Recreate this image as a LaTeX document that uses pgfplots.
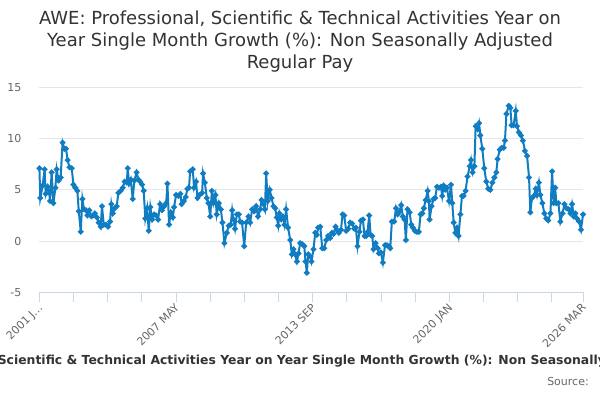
\documentclass[border=0pt]{standalone}
\usepackage{fontspec}
\setmainfont{DejaVu Sans}
\usepackage{pgfplots}
\pgfplotsset{compat=1.18}
\definecolor{serie}{RGB}{16,124,194}
\definecolor{titlec}{HTML}{333333}
\definecolor{tickc}{HTML}{666666}
\definecolor{gridc}{HTML}{E6E6E6}
\definecolor{axisc}{HTML}{CCD6EB}
\pgfplotstableread{
m v
0 7.1
0.5 4.2
1.8 5.4
2.9 7.0
3.5 4.6
4.6 5.3
5.5 4.7
5.9 3.9
6.8 6.7
7.8 3.7
8.9 5.2
9.6 7.0
10.7 5.9
11.8 6.2
12.9 9.6
13.9 9.0
14.8 9.0
15.7 7.9
16.7 7.2
18 7.1
18.9 5.5
20 5.2
21.1 4.9
21.9 2.9
23 0.9
23.9 4.1
24.8 3.1
25.9 3.0
26.7 2.5
27.8 3.0
28.9 2.4
29.8 2.5
30.9 2.7
32 2.3
33 1.8
34.1 1.4
34.8 3.4
35.8 1.6
37.1 1.6
38.2 1.4
39.3 1.9
40 3.6
40.8 2.7
41.9 3.2
43 3.4
43.9 4.7
45.2 4.9
46.3 5.2
47.4 5.8
48.6 5.7
49.1 7.1
49.9 5.6
50.8 6.0
51.9 4.1
52.8 5.9
54.1 6.7
55 6.0
56 5.8
57.1 5.5
58 4.9
58.9 2.2
59.9 3.2
60.8 1.0
61.7 3.3
62.7 2.1
63.8 2.6
64.9 2.5
66 2.1
67.1 3.6
68.2 3.0
69.4 3.4
70.5 3.7
71.2 5.6
72.1 1.6
73.1 2.8
74.2 2.3
74.9 3.3
76 4.5
77.3 4.4
78.4 4.6
79.1 3.6
80.3 3.9
81.4 4.3
82.3 5.1
83.2 5.2
83.8 6.8
85.3 7.0
86 5.2
87.1 5.8
87.9 4.2
89 4.5
90.5 4.7
91 6.6
92 5.7
93.1 4.2
94 3.7
95 2.4
95.9 4.9
96.8 3.7
97.9 4.5
98.6 2.6
99.8 3.7
100.9 3.1
101.8 1.8
102.9 -0.2
104.2 0.8
105.3 1.5
106.4 1.6
107.2 3.0
107.9 2.1
108.8 1.2
109.8 2.6
110.9 2.6
111.6 1.9
112.7 1.8
113.9 -0.5
115 1.8
116.3 2.4
117.2 1.8
118.3 3.1
119.4 2.9
120.5 3.4
121.6 2.4
122.8 3.1
123.5 4.0
124.6 3.6
125.4 3.1
126.1 6.6
127 3.9
128.1 5.0
129.1 4.2
130.2 3.4
131.1 3.2
132 2.3
132.8 1.5
133.5 2.7
134.5 2.1
135.4 2.4
136.3 1.6
137.2 3.1
138.3 1.3
139.5 0.1
140.4 -1.3
141.3 -0.8
142.2 -1.3
143.2 -2.0
144.1 -1.2
145 -0.2
146.1 -0.3
147.3 -0.5
148 -2.0
148.7 -3.1
149.5 -1.3
150.6 -1.5
151.3 -2.0
152.4 -0.8
153.4 0.8
154.3 0.6
155 1.3
156.2 1.4
157.3 -0.7
158.4 -0.7
159.5 0.1
160.6 0.5
161.7 0.3
162.7 0.8
163.6 0.7
164.7 1.4
165.4 1.1
166.5 0.8
167.7 1.1
168.6 2.6
169.5 2.5
170.6 1.0
171.7 1.2
172.8 1.8
173.9 1.7
175.1 1.2
176 1.3
176.9 -0.5
178 0.9
178.8 2.0
179.9 2.1
180.8 0.5
181.8 0.5
182.5 0.9
183.4 2.5
184.2 0.6
185.1 0.5
185.8 -0.8
187 -0.2
188.1 -0.7
188.8 -1.2
189.9 -1.1
191 -2.1
192.2 -0.4
193.3 -0.4
194.4 -0.5
195.1 -0.7
196 1.9
197.3 1.9
198.3 3.2
199.2 2.6
200.3 2.9
201.2 3.5
202.1 2.4
203.1 2.1
203.8 0.1
204.7 3.1
205.9 2.8
206.8 1.6
207.7 1.3
208.8 1.0
209.9 0.9
211 0.9
212 2.6
212.9 2.7
213.8 3.2
214.8 4.0
215.9 4.9
216.6 3.9
217 2.1
218.1 3.4
219.2 4.1
220.1 4.2
221.1 5.3
222.2 5.2
223.3 5.3
224 4.4
224.8 5.4
225.7 5.0
226.6 5.2
227.8 3.9
228.9 5.5
229.6 3.7
230.4 1.8
231.3 0.8
232.2 1.3
233.1 0.5
234.1 2.6
235 4.4
235.9 4.4
237 4.9
238.1 6.3
239.3 7.3
240 7.9
240.9 6.7
241.9 7.3
242.6 11.2
243.7 10.9
244.5 11.5
245.2 10.3
246.3 9.0
247.4 7.1
248.5 5.8
249.6 5.1
250.8 5.0
251.9 5.7
253 6.2
254.1 6.7
254.8 8.0
256 8.9
257.1 9.1
258.2 9.1
258.9 9.8
259.7 12.4
261 13.2
261.9 13.0
262.6 11.3
263.7 11.3
264.9 12.7
265.6 11.2
266.7 10.6
267.8 10.3
268.9 9.8
270 8.8
271.2 8.3
272.3 6.2
273 2.8
273.9 4.2
274.9 4.4
276 5.1
276.7 4.5
277.8 5.7
278.6 4.5
279.7 3.7
280.8 2.7
281.9 2.2
283 2.0
284.2 2.7
285.1 6.8
286 3.7
286.8 5.2
287.5 3.7
288.6 3.7
289.7 1.9
290.9 2.7
292 3.6
293.1 3.2
294.2 3.1
295.3 2.7
296.2 3.6
297.2 2.4
298.1 2.7
299 2.2
300.1 1.9
301.2 1.1
302.3 2.6
}\awe
\begin{document}
\begin{tikzpicture}[x=0.75pt,y=0.75pt]
\path (0,0) rectangle (600,400);
\node[align=center, text=titlec, font=\fontsize{13.5}{16.5}\selectfont] at (300,358.5)
  {AWE: Professional, Scientific \& Technical Activities Year on\\Year Single Month Growth (\%): Non Seasonally Adjusted\\Regular Pay};
\begin{axis}[
  at={(29.55pt,80.775pt)}, anchor=south west,
  width=407.7pt, height=153.75pt, scale only axis,
  xmin=0, xmax=302.3, ymin=-5, ymax=15,
  axis x line*=bottom, axis y line*=left,
  y axis line style={draw=none},
  x axis line style={color=axisc, line width=0.75pt},
  ytick={-5,0,5,10,15},
  ymajorgrids, grid style={color=gridc, line width=0.75pt},
  xtick={0,19,38,57,76,95,114,133,152,171,190,209,228,247,266,285,302.3},
  xticklabels={2001 J…,,,,2007 MAY,,,,2013 SEP,,,,2020 JAN,,,,2026 MAR},
  tick align=outside, major tick length=7.5pt,
  xtick style={color=axisc, line width=0.75pt},
  ytick style={draw=none},
  /pgf/number format/assume math mode=true,
  ticklabel style={font=\fontsize{8.25}{10}\selectfont, text=tickc},
  xticklabel style={rotate=45, anchor=north east, inner sep=1pt, yshift=2pt},
  yticklabel style={anchor=east, inner sep=0pt, xshift=-5.75pt},
  clip=false,
]
\addplot[color=serie, line width=1.5pt, mark=*, mark size=1.3pt, mark options={solid}] table[x=m,y=v] {\awe};
\end{axis}
\node[text=titlec, font=\bfseries\fontsize{9.3}{11}\selectfont] at (311,39)
  {AWE: Professional, Scientific \& Technical Activities Year on Year Single Month Growth (\%): Non Seasonally Adjusted Regular Pay};
\node[anchor=east, text=tickc, font=\fontsize{8.25}{10}\selectfont, inner sep=0pt] at (589,19) {Source:};
\pgfresetboundingbox
\path[use as bounding box] (0,0) rectangle (600,400);
\end{tikzpicture}
\end{document}
